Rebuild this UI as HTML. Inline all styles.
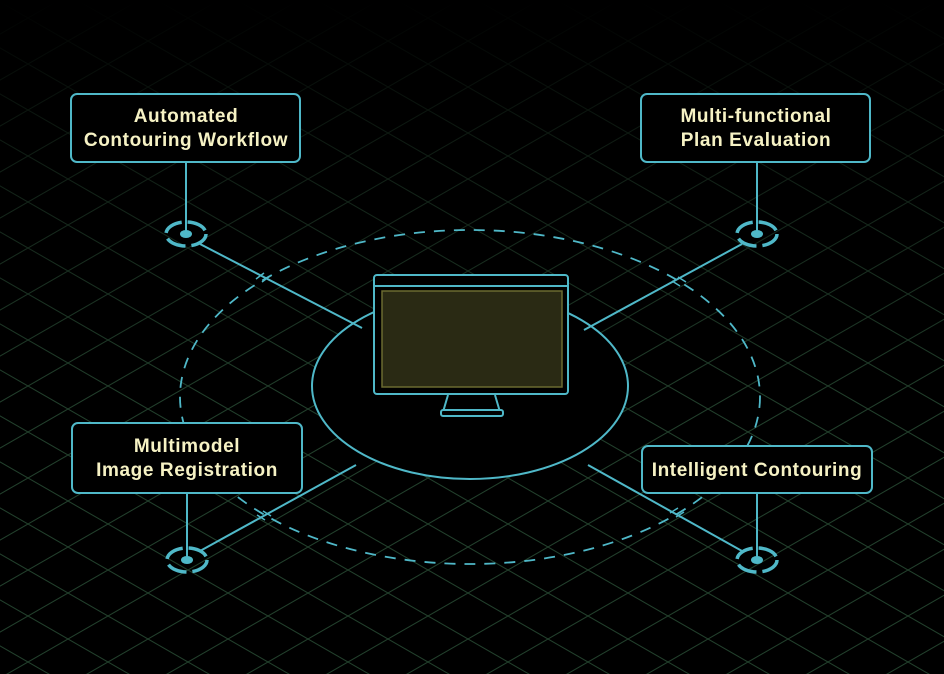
<!DOCTYPE html>
<html><head><meta charset="utf-8"><style>
html,body{margin:0;padding:0;background:#000;}
svg{display:block}
text{font-family:"Liberation Sans","DejaVu Sans",sans-serif;fill:#f6f2c4;font-size:19px;font-weight:bold;letter-spacing:0.6px;text-anchor:middle}
</style></head><body>
<svg width="944" height="674" viewBox="0 0 944 674" xmlns="http://www.w3.org/2000/svg">
<defs>
<pattern id="g" x="68" y="41" width="80" height="46" patternUnits="userSpaceOnUse">
<path d="M0 0 L80 46 M80 0 L0 46" stroke="#22402c" stroke-width="1" fill="none"/>
</pattern>
<linearGradient id="fade" x1="0" y1="0" x2="0" y2="1">
<stop offset="0" stop-color="#fff" stop-opacity="0"/>
<stop offset="0.25" stop-color="#fff" stop-opacity="0.5"/>
<stop offset="0.6" stop-color="#fff" stop-opacity="1"/>
</linearGradient>
<mask id="m"><rect width="944" height="674" fill="url(#fade)"/></mask>
</defs>
<rect width="944" height="674" fill="#000"/>
<rect width="944" height="674" fill="url(#g)" mask="url(#m)"/>

<g stroke="#4fb8c8" fill="none" stroke-width="2">
<ellipse cx="470" cy="397" rx="290" ry="167" stroke-dasharray="11 9" stroke-width="1.8"/>
<ellipse cx="470" cy="386" rx="158" ry="93" fill="#000"/>
<line x1="200" y1="244" x2="362" y2="328"/>
<line x1="742" y1="244" x2="584" y2="330"/>
<line x1="200" y1="551" x2="356" y2="465"/>
<line x1="742" y1="551" x2="588" y2="465"/>
<line x1="186" y1="162" x2="186" y2="234"/>
<line x1="757" y1="162" x2="757" y2="234"/>
<line x1="187" y1="493" x2="187" y2="560"/>
<line x1="757" y1="493" x2="757" y2="560"/>
<path d="M256 279 l8 -6 M262 282 l8 -6 M678 277 l8 5 M672 281 l8 5 M257 515 l8 5 M263 511 l8 5 M670 513 l8 -5 M676 517 l8 -5" stroke-width="1.5"/>
<rect x="374" y="275" width="194" height="119" rx="3" fill="#000"/>
<line x1="374" y1="286" x2="568" y2="286"/>
<rect x="382" y="291" width="180" height="96" fill="#2a2a14" stroke="#6a6a30" stroke-width="1.5"/>
<path d="M448 395 L443 412 L500 412 L495 395" fill="#000"/>
<rect x="441" y="410" width="62" height="6" rx="2" fill="#000"/>
</g>
<g stroke="#4fb8c8" fill="none" stroke-width="3.5">
<g transform="translate(186,234)"><ellipse rx="20" ry="12" stroke-dasharray="20 6"/><ellipse rx="6" ry="4" fill="#4fb8c8" stroke="none"/></g>
<g transform="translate(757,234)"><ellipse rx="20" ry="12" stroke-dasharray="20 6"/><ellipse rx="6" ry="4" fill="#4fb8c8" stroke="none"/></g>
<g transform="translate(187,560)"><ellipse rx="20" ry="12" stroke-dasharray="20 6"/><ellipse rx="6" ry="4" fill="#4fb8c8" stroke="none"/></g>
<g transform="translate(757,560)"><ellipse rx="20" ry="12" stroke-dasharray="20 6"/><ellipse rx="6" ry="4" fill="#4fb8c8" stroke="none"/></g>
</g>
<g stroke="#4fb8c8" stroke-width="2" fill="#000">
<rect x="71" y="94" width="229" height="68" rx="6"/>
<rect x="641" y="94" width="229" height="68" rx="6"/>
<rect x="72" y="423" width="230" height="70" rx="6"/>
<rect x="642" y="446" width="230" height="47" rx="6"/>
</g>
<text x="186" y="122">Automated</text>
<text x="186" y="146">Contouring Workflow</text>
<text x="756" y="122">Multi-functional</text>
<text x="756" y="146">Plan Evaluation</text>
<text x="187" y="452">Multimodel</text>
<text x="187" y="476">Image Registration</text>
<text x="757" y="476">Intelligent Contouring</text>
</svg>
</body></html>
